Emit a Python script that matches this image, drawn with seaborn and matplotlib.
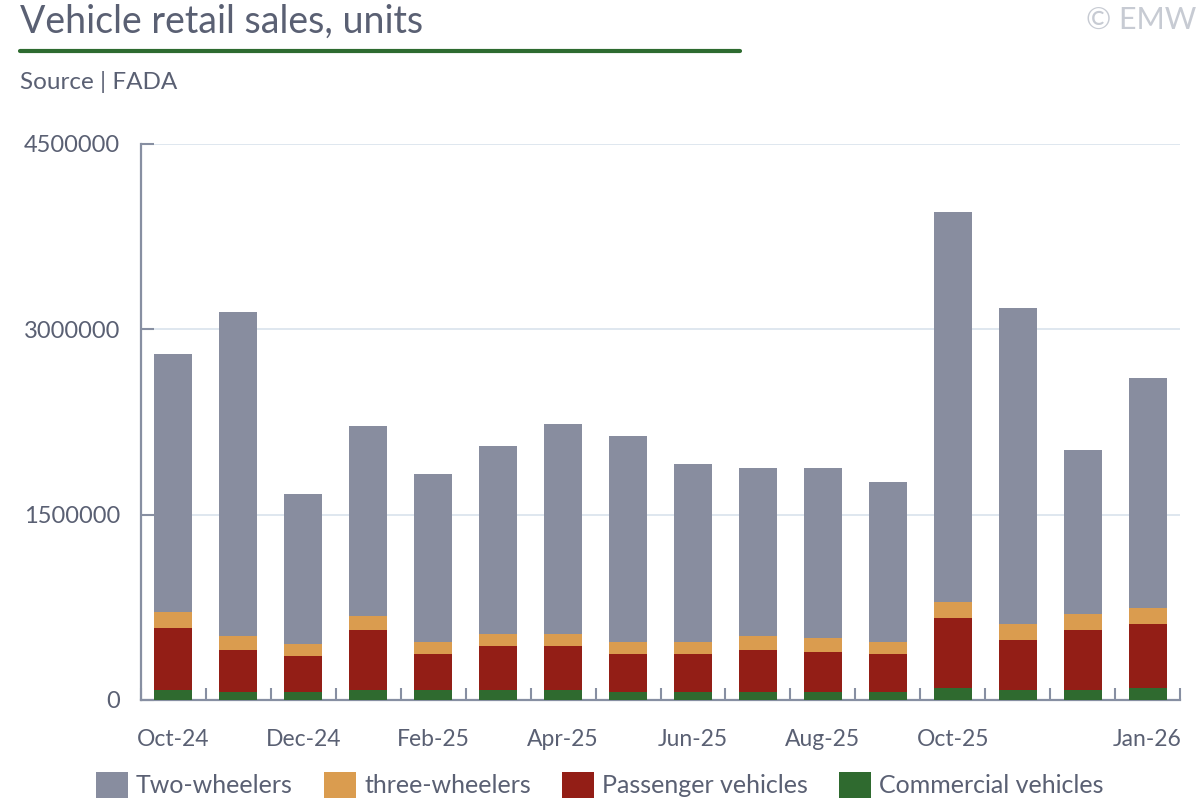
import numpy as np
import pandas as pd
import matplotlib
matplotlib.use("Agg")
import matplotlib.pyplot as plt
import seaborn as sns
from matplotlib.patches import Patch
from matplotlib.lines import Line2D
from matplotlib.ticker import FixedLocator, FuncFormatter

months = ['Oct-24', 'Nov-24', 'Dec-24', 'Jan-25', 'Feb-25', 'Mar-25', 'Apr-25', 'May-25',
          'Jun-25', 'Jul-25', 'Aug-25', 'Sep-25', 'Oct-25', 'Nov-25', 'Dec-25', 'Jan-26']
shown_labels = ['Oct-24', 'Dec-24', 'Feb-25', 'Apr-25', 'Jun-25', 'Aug-25', 'Oct-25', 'Jan-26']

two_wheelers = [2087000, 2621000, 1214000, 1537000, 1359000, 1521000, 1699000, 1667000,
                1440000, 1359000, 1375000, 1294000, 3155000, 2556000, 1327000, 1861000]
three_wheelers = [129000, 113000, 97000, 113000, 97000, 97000, 97000, 97000,
                  97000, 113000, 113000, 97000, 129000, 129000, 129000, 129000]
passenger = [502000, 340000, 291000, 485000, 291000, 356000, 356000, 307000,
             307000, 340000, 324000, 307000, 566000, 405000, 485000, 518000]
commercial = [81000, 65000, 65000, 81000, 81000, 81000, 81000, 65000,
              65000, 65000, 65000, 65000, 97000, 81000, 81000, 97000]

series_names = ['Two-wheelers', 'three-wheelers', 'Passenger vehicles', 'Commercial vehicles']
colors = ['#888d9f', '#da9c4f', '#931e16', '#2f6a2f']

text_col = '#5a6073'
axis_col = '#878fa2'

sns.set_theme(style='white')
plt.rcParams['font.family'] = ['Lato', 'DejaVu Sans']

df = pd.DataFrame({'month': months})
df['cv'] = np.array(commercial)
df['pv'] = df['cv'] + np.array(passenger)
df['tw3'] = df['pv'] + np.array(three_wheelers)
df['total'] = df['tw3'] + np.array(two_wheelers)

fig = plt.figure(figsize=(12, 8), dpi=100)
ax = fig.add_axes([141 / 1200, 1 - 700 / 800, 1039 / 1200, 556 / 800])

# stacked look: draw the cumulative totals from tallest to shortest
for col, c in zip(['total', 'tw3', 'pv', 'cv'], colors):
    sns.barplot(data=df, x='month', y=col, order=months, color=c, saturation=1,
                width=0.585, errorbar=None, ax=ax, zorder=3,
                edgecolor='none', linewidth=0)

ax.set_xlim(-0.5, 15.5)
ax.set_ylim(0, 4500000)
ax.set_xlabel('')
ax.set_ylabel('')

ax.set_yticks([0, 1500000, 3000000, 4500000])
ax.yaxis.set_major_formatter(FuncFormatter(lambda v, _: f'{int(v)}'))
ax.grid(axis='y', color='#dce5ee', linewidth=1.3, zorder=0)
ax.set_axisbelow(True)

ax.set_xticks([months.index(m) for m in shown_labels])
ax.set_xticklabels(shown_labels)
ax.xaxis.set_minor_locator(FixedLocator(np.arange(-0.5, 16, 1)))

for s in ['top', 'right']:
    ax.spines[s].set_visible(False)
for s in ['left', 'bottom']:
    ax.spines[s].set_color(axis_col)
    ax.spines[s].set_linewidth(1.6)

ax.tick_params(axis='y', direction='in', length=9.5, width=1.5, color=axis_col,
               labelsize=17, labelcolor=text_col, pad=15, left=True)
ax.tick_params(axis='x', which='major', length=0, labelsize=16.5, labelcolor=text_col, pad=21)
ax.tick_params(axis='x', which='minor', direction='in', length=8.5, width=1.5,
               color=axis_col, bottom=True)

# header
fig.text(20 / 1200, 1 - 22 / 800, 'Vehicle retail sales, units', fontsize=27,
         color=text_col, va='center', ha='left')
fig.add_artist(Line2D([20 / 1200, 740 / 1200], [1 - 51 / 800, 1 - 51 / 800],
                      color='#2e6b30', linewidth=3))
fig.text(20 / 1200, 1 - 82 / 800, 'Source | FADA', fontsize=17.5, color=text_col,
         va='center', ha='left')
fig.text(1196 / 1200, 1 - 20 / 800, '© EMW', fontsize=22, color='#c7cbd3',
         va='center', ha='right')

handles = [Patch(facecolor=c, edgecolor='none') for c in colors]
fig.legend(handles, series_names, loc='center', bbox_to_anchor=(0.5, 1 - 785 / 800),
           ncol=4, frameon=False, fontsize=18, handlelength=1.28, handleheight=1.2,
           handletextpad=0.32, columnspacing=1.25, labelcolor=text_col)

fig.savefig('out.png', dpi=100)
